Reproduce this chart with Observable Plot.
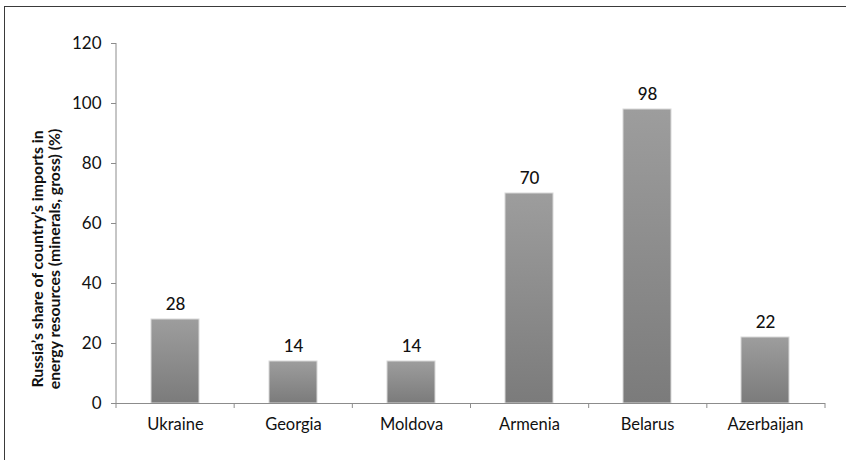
<!DOCTYPE html>
<html>
<head>
<meta charset="utf-8">
<script src="https://cdn.jsdelivr.net/npm/d3@7"></script>
<script src="https://cdn.jsdelivr.net/npm/@observablehq/plot@0.6"></script>
<style>
  html, body { margin: 0; padding: 0; background: #fff; }
  #wrap { position: relative; width: 846px; height: 460px; overflow: hidden; }
  #frame { position: absolute; left: 4px; top: 6px; width: 900px; height: 500px;
           border-left: 1.5px solid #3a3a3a; border-top: 1.5px solid #3a3a3a; pointer-events: none; }
  svg { font-family: Lato, "Open Sans", sans-serif; }
</style>
</head>
<body>
<div id="wrap"><div id="frame"></div></div>
<script>
// Russia's share of each country's energy imports (%)
const countries = ["Ukraine", "Georgia", "Moldova", "Armenia", "Belarus", "Azerbaijan"];
const shares = [28, 14, 14, 70, 98, 22];
const yTicks = [0, 20, 40, 60, 80, 100, 120];
const yLabelLines = ["Russia’s share of country’s imports in", "energy resources (minerals, gross) (%)"];

const data = countries.map((c, i) => ({country: c, share: shares[i]}));

const chart = Plot.plot({
  width: 846,
  height: 460,
  marginLeft: 116,
  marginRight: 21,
  marginTop: 43,
  marginBottom: 57,
  style: {fontFamily: "Lato, 'Open Sans', sans-serif", background: "transparent"},
  x: {domain: countries, paddingInner: 0.59, paddingOuter: 0.295, label: null},
  y: {domain: [0, 120], ticks: yTicks, label: null},
  marks: [
    () => {
      const svg = d3.create("svg:defs");
      const g = svg.append("linearGradient").attr("id", "barFill")
        .attr("x1", 0).attr("y1", 0).attr("x2", 0).attr("y2", 1);
      g.append("stop").attr("offset", "0%").attr("stop-color", "#9d9d9d");
      g.append("stop").attr("offset", "100%").attr("stop-color", "#7b7b7b");
      return svg.node();
    },
    Plot.barY(data, {x: "country", y: "share", fill: "url(#barFill)", stroke: "#d8d8d8", strokeWidth: 1}),
    Plot.text(data, {x: "country", y: "share", text: d => String(d.share), dy: -15,
      fontSize: 17, fill: "#111", fontWeight: 500}),
    Plot.axisY({ticks: yTicks, tickSize: 5, tickPadding: 10, fontSize: 17, stroke: "#8c8c8c",
      color: "#111", tickFormat: d => String(d)}),
    Plot.ruleY([0], {stroke: "#8c8c8c"}),
    Plot.axisX({tickSize: 0, tickPadding: 15, fontSize: 16.5, color: "#111"}),
    // y-axis line and the x-axis ticks at category boundaries
    (index, scales, values, dims) => {
      const g = d3.create("svg:g").attr("stroke", "#8c8c8c");
      const y0 = scales.y(0);
      const left = dims.marginLeft, right = dims.width - dims.marginRight;
      g.append("line").attr("x1", left).attr("x2", left).attr("y1", scales.y(120)).attr("y2", y0);
      for (let i = 0; i <= countries.length; i++) {
        const xp = left + i * (right - left) / countries.length;
        g.append("line").attr("x1", xp).attr("x2", xp).attr("y1", y0).attr("y2", y0 + 5);
      }
      return g.node();
    },
    // two-line rotated y-axis title
    () => {
      const g = d3.create("svg:g")
        .attr("font-size", 15.8).attr("font-weight", "bold").attr("fill", "#111")
        .attr("text-anchor", "middle");
      const xs = [43, 60];
      yLabelLines.forEach((t, i) => {
        g.append("text").attr("transform", `translate(${xs[i]},259) rotate(-90)`).text(t);
      });
      return g.node();
    }
  ]
});
document.getElementById("wrap").prepend(chart);
</script>
</body>
</html>
